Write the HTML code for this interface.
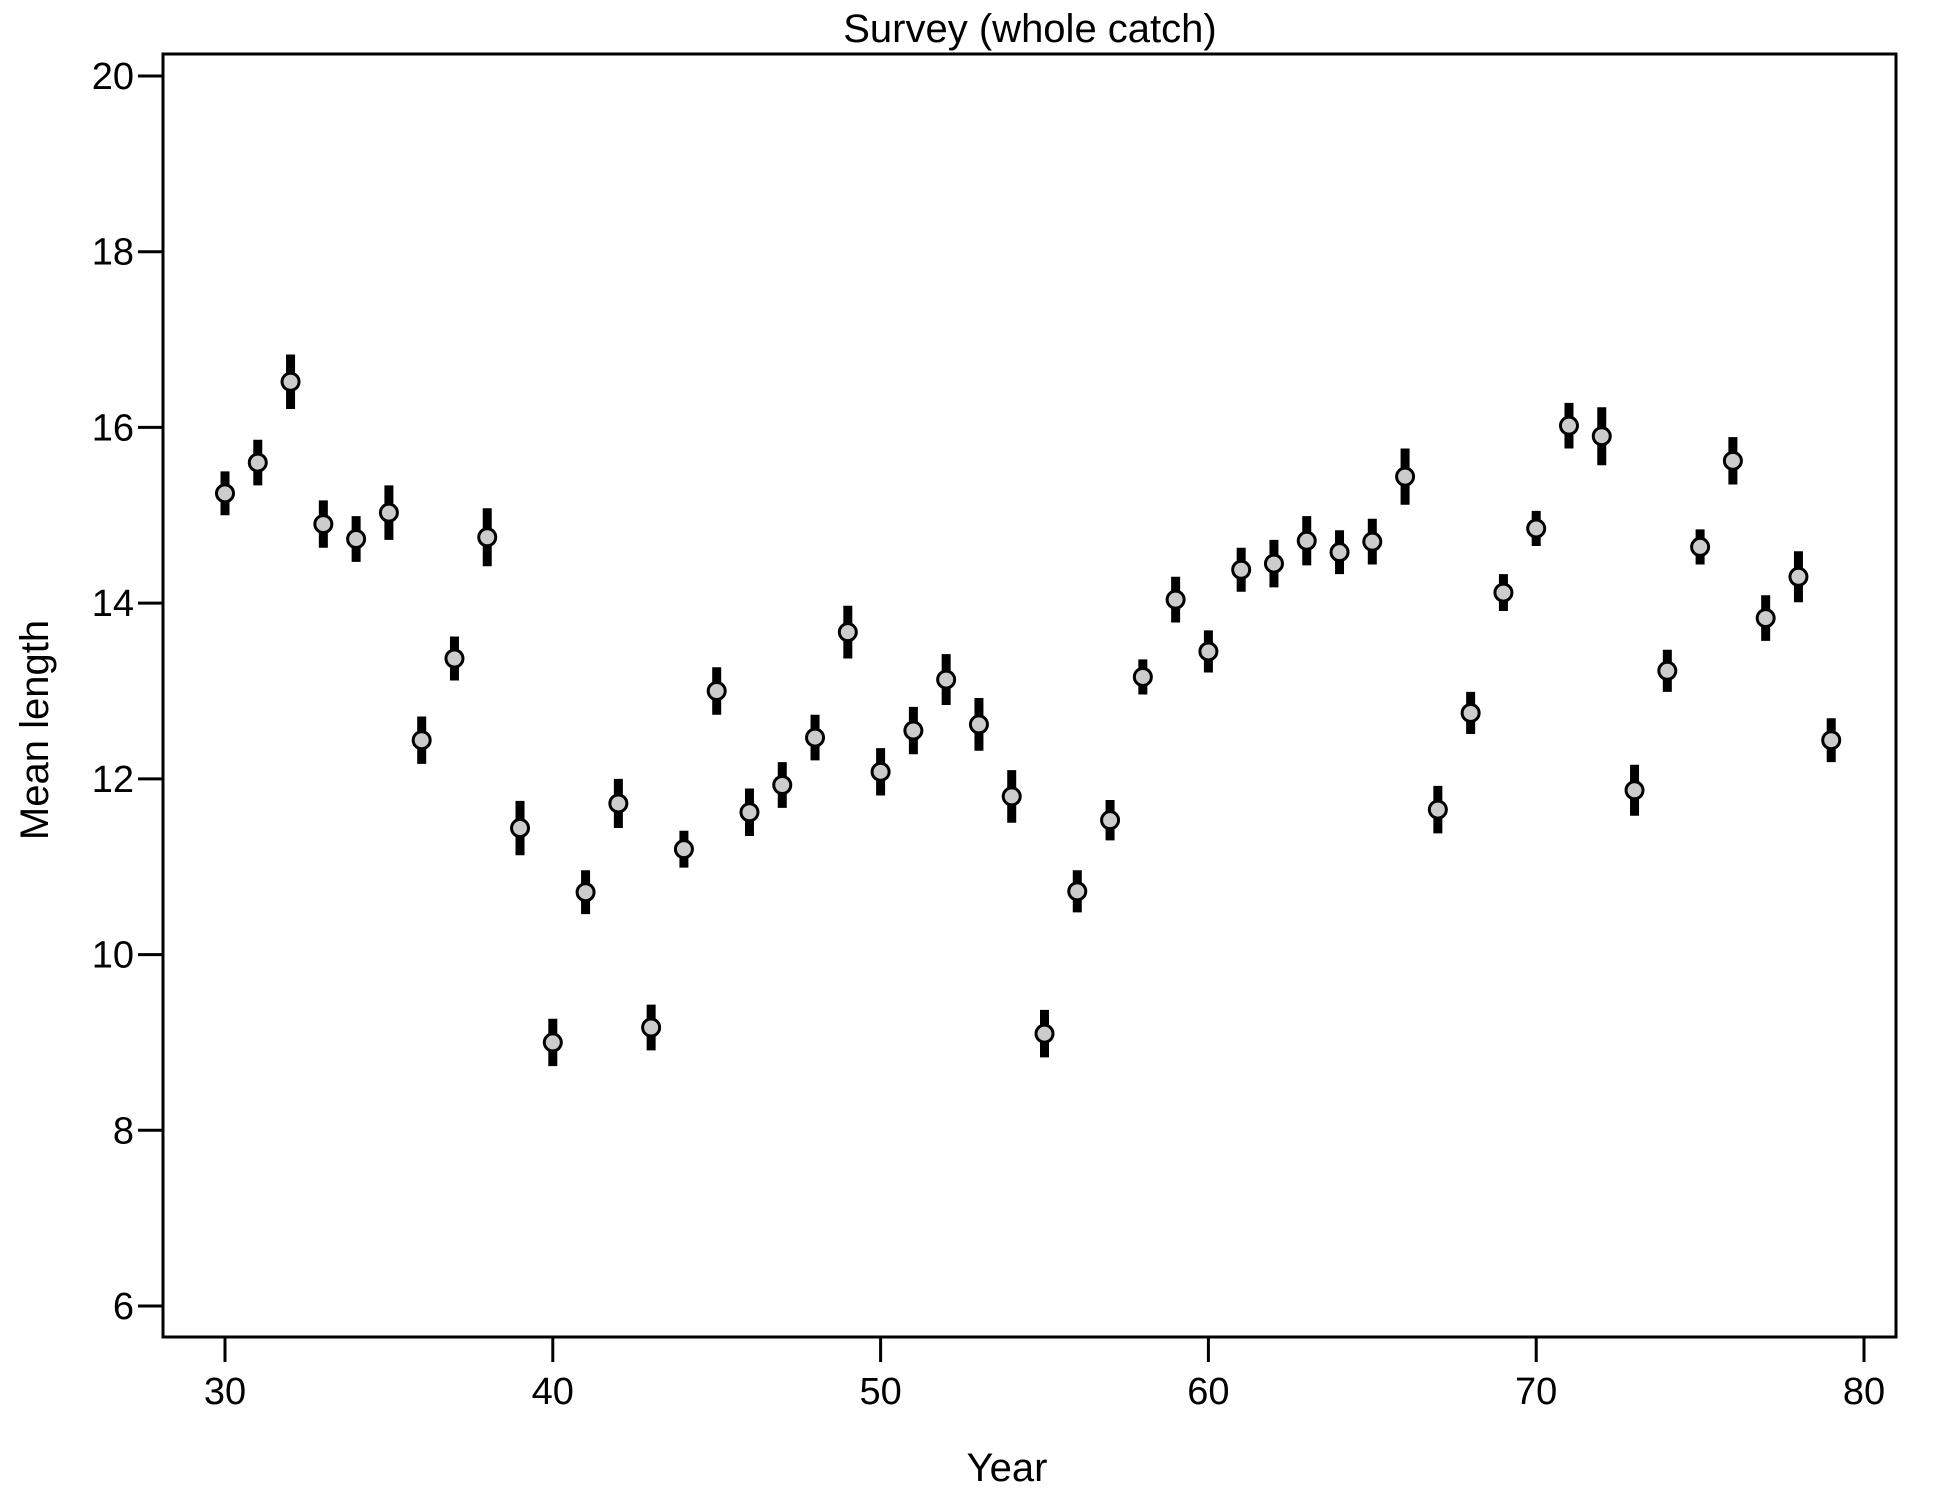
<!DOCTYPE html>
<html><head><meta charset="utf-8"><style>
body{margin:0;background:#fff}
text{font-family:"Liberation Sans",Arial,sans-serif;fill:#000}
</style></head><body>
<svg id="chart" width="1950" height="1500" xmlns="http://www.w3.org/2000/svg">
<rect x="0" y="0" width="1950" height="1500" fill="#fff"/>
<text x="1030" y="42" font-size="40" text-anchor="middle">Survey (whole catch)</text>
<rect x="163" y="54" width="1733" height="1283" fill="none" stroke="#000" stroke-width="3"/>
<text x="1007" y="1481" font-size="40" text-anchor="middle">Year</text>
<text transform="translate(48,730) rotate(-90)" font-size="40" text-anchor="middle">Mean length</text>
<g id="axes"></g>
<g id="marks"></g>
</svg>
<script>
const years=[30,31,32,33,34,35,36,37,38,39,40,41,42,43,44,45,46,47,48,49,50,51,52,53,54,55,56,57,58,59,60,61,62,63,64,65,66,67,68,69,70,71,72,73,74,75,76,77,78,79];
const meanLength=[15.25,15.6,16.52,14.9,14.73,15.03,12.44,13.37,14.75,11.44,9.0,10.71,11.72,9.17,11.2,13.0,11.62,11.93,12.47,13.67,12.08,12.55,13.13,12.62,11.8,9.1,10.72,11.53,13.16,14.04,13.45,14.38,14.45,14.71,14.58,14.7,15.44,11.65,12.75,14.12,14.85,16.02,15.9,11.87,13.23,14.64,15.62,13.83,14.3,12.44];
const errHalf=[0.25,0.26,0.31,0.27,0.26,0.31,0.27,0.25,0.33,0.31,0.27,0.25,0.28,0.26,0.21,0.27,0.27,0.26,0.26,0.3,0.27,0.27,0.29,0.3,0.3,0.27,0.24,0.23,0.2,0.26,0.24,0.25,0.27,0.28,0.25,0.26,0.32,0.27,0.24,0.21,0.2,0.26,0.33,0.29,0.24,0.2,0.27,0.26,0.29,0.25];
const xTicks=[30,40,50,60,70,80];
const yTicks=[6,8,10,12,14,16,18,20];
const NS='http://www.w3.org/2000/svg';
function xs(v){return 225+(v-30)*(1864-225)/50;}
function ys(v){return 1306-(v-6)*(1306-76)/14;}
function mk(t,a,p){const e=document.createElementNS(NS,t);for(const k in a)e.setAttribute(k,a[k]);p.appendChild(e);return e;}
const axes=document.getElementById('axes'),marks=document.getElementById('marks');
xTicks.forEach(v=>{
  const l=mk('line',{x1:xs(v),x2:xs(v),y1:1337,y2:1362,stroke:'#000','stroke-width':3},axes);
  
  
  const t=mk('text',{x:xs(v),y:1404,'font-size':38,'text-anchor':'middle'},axes);t.textContent=v;
  
  
});
yTicks.forEach(v=>{
  const l=mk('line',{x1:138,x2:163,y1:ys(v),y2:ys(v),stroke:'#000','stroke-width':3},axes);
  
  
  const t=mk('text',{x:134,y:ys(v)+13,'font-size':38,'text-anchor':'end'},axes);t.textContent=v;
  
  
});
years.forEach((yr,i)=>{
  const m=meanLength[i],e=errHalf[i];
  const b=mk('line',{x1:xs(yr),x2:xs(yr),y1:ys(m-e),y2:ys(m+e),stroke:'#000','stroke-width':9},marks);
  
  
  const c=mk('circle',{cx:xs(yr),cy:ys(m),r:8.5,fill:'#cccccc',stroke:'#000','stroke-width':3},marks);
  
  
});
</script>
</body></html>
